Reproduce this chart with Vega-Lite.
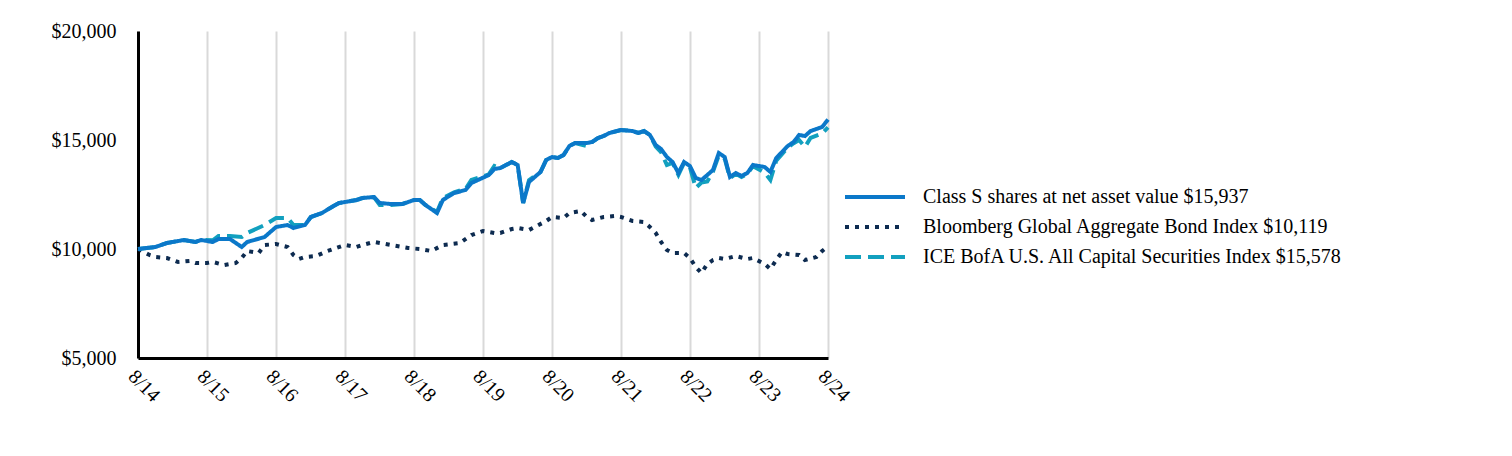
{
  "$schema": "https://vega.github.io/schema/vega-lite/v6.json",
  "width": 690,
  "height": 327,
  "autosize": {"type": "none"},
  "padding": {"left": 138, "top": 31, "right": 684, "bottom": 98},
  "background": "white",
  "config": {
    "view": {"stroke": null},
    "font": "Liberation Serif",
    "axis": {"labelFont": "Liberation Serif", "labelColor": "black", "labelFontSize": 20},
    "legend": {"labelFont": "Liberation Serif", "labelColor": "black", "labelFontSize": 20}
  },
  "data": {"values": [
    {"d":"2014-08-01","s":"Bloomberg Global Aggregate Bond Index $10,119","v":10000},
    {"d":"2014-10-01","s":"Bloomberg Global Aggregate Bond Index $10,119","v":9724},
    {"d":"2014-11-01","s":"Bloomberg Global Aggregate Bond Index $10,119","v":9633},
    {"d":"2015-01-01","s":"Bloomberg Global Aggregate Bond Index $10,119","v":9587},
    {"d":"2015-03-01","s":"Bloomberg Global Aggregate Bond Index $10,119","v":9404},
    {"d":"2015-05-01","s":"Bloomberg Global Aggregate Bond Index $10,119","v":9449},
    {"d":"2015-06-01","s":"Bloomberg Global Aggregate Bond Index $10,119","v":9358},
    {"d":"2015-08-01","s":"Bloomberg Global Aggregate Bond Index $10,119","v":9358},
    {"d":"2015-09-01","s":"Bloomberg Global Aggregate Bond Index $10,119","v":9404},
    {"d":"2015-11-01","s":"Bloomberg Global Aggregate Bond Index $10,119","v":9266},
    {"d":"2016-01-01","s":"Bloomberg Global Aggregate Bond Index $10,119","v":9358},
    {"d":"2016-02-01","s":"Bloomberg Global Aggregate Bond Index $10,119","v":9587},
    {"d":"2016-03-01","s":"Bloomberg Global Aggregate Bond Index $10,119","v":9908},
    {"d":"2016-05-01","s":"Bloomberg Global Aggregate Bond Index $10,119","v":9816},
    {"d":"2016-06-01","s":"Bloomberg Global Aggregate Bond Index $10,119","v":10183},
    {"d":"2016-08-01","s":"Bloomberg Global Aggregate Bond Index $10,119","v":10229},
    {"d":"2016-10-01","s":"Bloomberg Global Aggregate Bond Index $10,119","v":10092},
    {"d":"2016-11-01","s":"Bloomberg Global Aggregate Bond Index $10,119","v":9725},
    {"d":"2016-12-01","s":"Bloomberg Global Aggregate Bond Index $10,119","v":9541},
    {"d":"2017-01-01","s":"Bloomberg Global Aggregate Bond Index $10,119","v":9633},
    {"d":"2017-03-01","s":"Bloomberg Global Aggregate Bond Index $10,119","v":9679},
    {"d":"2017-05-01","s":"Bloomberg Global Aggregate Bond Index $10,119","v":9908},
    {"d":"2017-06-01","s":"Bloomberg Global Aggregate Bond Index $10,119","v":10000},
    {"d":"2017-08-01","s":"Bloomberg Global Aggregate Bond Index $10,119","v":10183},
    {"d":"2017-10-01","s":"Bloomberg Global Aggregate Bond Index $10,119","v":10092},
    {"d":"2017-11-01","s":"Bloomberg Global Aggregate Bond Index $10,119","v":10183},
    {"d":"2018-01-01","s":"Bloomberg Global Aggregate Bond Index $10,119","v":10321},
    {"d":"2018-02-01","s":"Bloomberg Global Aggregate Bond Index $10,119","v":10275},
    {"d":"2018-04-01","s":"Bloomberg Global Aggregate Bond Index $10,119","v":10183},
    {"d":"2018-06-01","s":"Bloomberg Global Aggregate Bond Index $10,119","v":10092},
    {"d":"2018-07-01","s":"Bloomberg Global Aggregate Bond Index $10,119","v":10046},
    {"d":"2018-09-01","s":"Bloomberg Global Aggregate Bond Index $10,119","v":10000},
    {"d":"2018-11-01","s":"Bloomberg Global Aggregate Bond Index $10,119","v":9908},
    {"d":"2019-01-01","s":"Bloomberg Global Aggregate Bond Index $10,119","v":10183},
    {"d":"2019-04-01","s":"Bloomberg Global Aggregate Bond Index $10,119","v":10275},
    {"d":"2019-06-01","s":"Bloomberg Global Aggregate Bond Index $10,119","v":10642},
    {"d":"2019-08-01","s":"Bloomberg Global Aggregate Bond Index $10,119","v":10825},
    {"d":"2019-10-01","s":"Bloomberg Global Aggregate Bond Index $10,119","v":10734},
    {"d":"2019-11-01","s":"Bloomberg Global Aggregate Bond Index $10,119","v":10734},
    {"d":"2020-01-01","s":"Bloomberg Global Aggregate Bond Index $10,119","v":10917},
    {"d":"2020-02-01","s":"Bloomberg Global Aggregate Bond Index $10,119","v":10963},
    {"d":"2020-04-01","s":"Bloomberg Global Aggregate Bond Index $10,119","v":10871},
    {"d":"2020-05-01","s":"Bloomberg Global Aggregate Bond Index $10,119","v":11009},
    {"d":"2020-07-01","s":"Bloomberg Global Aggregate Bond Index $10,119","v":11284},
    {"d":"2020-08-01","s":"Bloomberg Global Aggregate Bond Index $10,119","v":11468},
    {"d":"2020-10-01","s":"Bloomberg Global Aggregate Bond Index $10,119","v":11422},
    {"d":"2020-11-01","s":"Bloomberg Global Aggregate Bond Index $10,119","v":11651},
    {"d":"2021-01-01","s":"Bloomberg Global Aggregate Bond Index $10,119","v":11743},
    {"d":"2021-02-01","s":"Bloomberg Global Aggregate Bond Index $10,119","v":11468},
    {"d":"2021-03-01","s":"Bloomberg Global Aggregate Bond Index $10,119","v":11330},
    {"d":"2021-05-01","s":"Bloomberg Global Aggregate Bond Index $10,119","v":11468},
    {"d":"2021-07-01","s":"Bloomberg Global Aggregate Bond Index $10,119","v":11514},
    {"d":"2021-08-01","s":"Bloomberg Global Aggregate Bond Index $10,119","v":11468},
    {"d":"2021-10-01","s":"Bloomberg Global Aggregate Bond Index $10,119","v":11284},
    {"d":"2021-12-01","s":"Bloomberg Global Aggregate Bond Index $10,119","v":11238},
    {"d":"2022-01-01","s":"Bloomberg Global Aggregate Bond Index $10,119","v":11009},
    {"d":"2022-02-01","s":"Bloomberg Global Aggregate Bond Index $10,119","v":10734},
    {"d":"2022-03-01","s":"Bloomberg Global Aggregate Bond Index $10,119","v":10321},
    {"d":"2022-04-01","s":"Bloomberg Global Aggregate Bond Index $10,119","v":9954},
    {"d":"2022-05-01","s":"Bloomberg Global Aggregate Bond Index $10,119","v":9816},
    {"d":"2022-07-01","s":"Bloomberg Global Aggregate Bond Index $10,119","v":9816},
    {"d":"2022-08-01","s":"Bloomberg Global Aggregate Bond Index $10,119","v":9587},
    {"d":"2022-09-01","s":"Bloomberg Global Aggregate Bond Index $10,119","v":9174},
    {"d":"2022-10-01","s":"Bloomberg Global Aggregate Bond Index $10,119","v":8899},
    {"d":"2022-11-01","s":"Bloomberg Global Aggregate Bond Index $10,119","v":9312},
    {"d":"2022-12-01","s":"Bloomberg Global Aggregate Bond Index $10,119","v":9495},
    {"d":"2023-01-01","s":"Bloomberg Global Aggregate Bond Index $10,119","v":9587},
    {"d":"2023-02-01","s":"Bloomberg Global Aggregate Bond Index $10,119","v":9541},
    {"d":"2023-04-01","s":"Bloomberg Global Aggregate Bond Index $10,119","v":9679},
    {"d":"2023-06-01","s":"Bloomberg Global Aggregate Bond Index $10,119","v":9541},
    {"d":"2023-07-01","s":"Bloomberg Global Aggregate Bond Index $10,119","v":9587},
    {"d":"2023-09-01","s":"Bloomberg Global Aggregate Bond Index $10,119","v":9312},
    {"d":"2023-10-01","s":"Bloomberg Global Aggregate Bond Index $10,119","v":9083},
    {"d":"2023-11-01","s":"Bloomberg Global Aggregate Bond Index $10,119","v":9495},
    {"d":"2023-12-01","s":"Bloomberg Global Aggregate Bond Index $10,119","v":9862},
    {"d":"2024-01-01","s":"Bloomberg Global Aggregate Bond Index $10,119","v":9770},
    {"d":"2024-03-01","s":"Bloomberg Global Aggregate Bond Index $10,119","v":9725},
    {"d":"2024-04-01","s":"Bloomberg Global Aggregate Bond Index $10,119","v":9495},
    {"d":"2024-06-01","s":"Bloomberg Global Aggregate Bond Index $10,119","v":9633},
    {"d":"2024-07-01","s":"Bloomberg Global Aggregate Bond Index $10,119","v":9908},
    {"d":"2024-08-01","s":"Bloomberg Global Aggregate Bond Index $10,119","v":10119},

    {"d":"2014-08-01","s":"ICE BofA U.S. All Capital Securities Index $15,578","v":10000},
    {"d":"2014-11-01","s":"ICE BofA U.S. All Capital Securities Index $15,578","v":10092},
    {"d":"2015-01-01","s":"ICE BofA U.S. All Capital Securities Index $15,578","v":10275},
    {"d":"2015-04-01","s":"ICE BofA U.S. All Capital Securities Index $15,578","v":10413},
    {"d":"2015-06-01","s":"ICE BofA U.S. All Capital Securities Index $15,578","v":10321},
    {"d":"2015-07-01","s":"ICE BofA U.S. All Capital Securities Index $15,578","v":10413},
    {"d":"2015-09-01","s":"ICE BofA U.S. All Capital Securities Index $15,578","v":10400},
    {"d":"2015-10-01","s":"ICE BofA U.S. All Capital Securities Index $15,578","v":10596},
    {"d":"2015-12-01","s":"ICE BofA U.S. All Capital Securities Index $15,578","v":10596},
    {"d":"2016-02-01","s":"ICE BofA U.S. All Capital Securities Index $15,578","v":10550},
    {"d":"2016-03-01","s":"ICE BofA U.S. All Capital Securities Index $15,578","v":10734},
    {"d":"2016-06-01","s":"ICE BofA U.S. All Capital Securities Index $15,578","v":11101},
    {"d":"2016-08-01","s":"ICE BofA U.S. All Capital Securities Index $15,578","v":11422},
    {"d":"2016-10-01","s":"ICE BofA U.S. All Capital Securities Index $15,578","v":11422},
    {"d":"2016-11-01","s":"ICE BofA U.S. All Capital Securities Index $15,578","v":11101},
    {"d":"2017-01-01","s":"ICE BofA U.S. All Capital Securities Index $15,578","v":11101},
    {"d":"2017-02-01","s":"ICE BofA U.S. All Capital Securities Index $15,578","v":11468},
    {"d":"2017-04-01","s":"ICE BofA U.S. All Capital Securities Index $15,578","v":11651},
    {"d":"2017-06-01","s":"ICE BofA U.S. All Capital Securities Index $15,578","v":11972},
    {"d":"2017-07-01","s":"ICE BofA U.S. All Capital Securities Index $15,578","v":12110},
    {"d":"2017-10-01","s":"ICE BofA U.S. All Capital Securities Index $15,578","v":12247},
    {"d":"2017-11-01","s":"ICE BofA U.S. All Capital Securities Index $15,578","v":12339},
    {"d":"2018-01-01","s":"ICE BofA U.S. All Capital Securities Index $15,578","v":12385},
    {"d":"2018-02-01","s":"ICE BofA U.S. All Capital Securities Index $15,578","v":12018},
    {"d":"2018-04-01","s":"ICE BofA U.S. All Capital Securities Index $15,578","v":12018},
    {"d":"2018-06-01","s":"ICE BofA U.S. All Capital Securities Index $15,578","v":12064},
    {"d":"2018-08-01","s":"ICE BofA U.S. All Capital Securities Index $15,578","v":12247},
    {"d":"2018-09-01","s":"ICE BofA U.S. All Capital Securities Index $15,578","v":12247},
    {"d":"2018-10-01","s":"ICE BofA U.S. All Capital Securities Index $15,578","v":12018},
    {"d":"2018-12-01","s":"ICE BofA U.S. All Capital Securities Index $15,578","v":11700},
    {"d":"2019-01-01","s":"ICE BofA U.S. All Capital Securities Index $15,578","v":12339},
    {"d":"2019-03-01","s":"ICE BofA U.S. All Capital Securities Index $15,578","v":12600},
    {"d":"2019-05-01","s":"ICE BofA U.S. All Capital Securities Index $15,578","v":12760},
    {"d":"2019-06-01","s":"ICE BofA U.S. All Capital Securities Index $15,578","v":13165},
    {"d":"2019-09-01","s":"ICE BofA U.S. All Capital Securities Index $15,578","v":13420},
    {"d":"2019-10-01","s":"ICE BofA U.S. All Capital Securities Index $15,578","v":13807},
    {"d":"2019-11-01","s":"ICE BofA U.S. All Capital Securities Index $15,578","v":13715},
    {"d":"2020-01-01","s":"ICE BofA U.S. All Capital Securities Index $15,578","v":13990},
    {"d":"2020-02-01","s":"ICE BofA U.S. All Capital Securities Index $15,578","v":13853},
    {"d":"2020-03-01","s":"ICE BofA U.S. All Capital Securities Index $15,578","v":12110},
    {"d":"2020-04-01","s":"ICE BofA U.S. All Capital Securities Index $15,578","v":13160},
    {"d":"2020-06-01","s":"ICE BofA U.S. All Capital Securities Index $15,578","v":13532},
    {"d":"2020-07-01","s":"ICE BofA U.S. All Capital Securities Index $15,578","v":14082},
    {"d":"2020-08-01","s":"ICE BofA U.S. All Capital Securities Index $15,578","v":14220},
    {"d":"2020-09-01","s":"ICE BofA U.S. All Capital Securities Index $15,578","v":14174},
    {"d":"2020-10-01","s":"ICE BofA U.S. All Capital Securities Index $15,578","v":14312},
    {"d":"2020-11-01","s":"ICE BofA U.S. All Capital Securities Index $15,578","v":14725},
    {"d":"2020-12-01","s":"ICE BofA U.S. All Capital Securities Index $15,578","v":14862},
    {"d":"2021-02-01","s":"ICE BofA U.S. All Capital Securities Index $15,578","v":14725},
    {"d":"2021-03-01","s":"ICE BofA U.S. All Capital Securities Index $15,578","v":14908},
    {"d":"2021-04-01","s":"ICE BofA U.S. All Capital Securities Index $15,578","v":15091},
    {"d":"2021-05-01","s":"ICE BofA U.S. All Capital Securities Index $15,578","v":15183},
    {"d":"2021-06-01","s":"ICE BofA U.S. All Capital Securities Index $15,578","v":15321},
    {"d":"2021-08-01","s":"ICE BofA U.S. All Capital Securities Index $15,578","v":15458},
    {"d":"2021-10-01","s":"ICE BofA U.S. All Capital Securities Index $15,578","v":15412},
    {"d":"2021-11-01","s":"ICE BofA U.S. All Capital Securities Index $15,578","v":15321},
    {"d":"2021-12-01","s":"ICE BofA U.S. All Capital Securities Index $15,578","v":15412},
    {"d":"2022-01-01","s":"ICE BofA U.S. All Capital Securities Index $15,578","v":15229},
    {"d":"2022-02-01","s":"ICE BofA U.S. All Capital Securities Index $15,578","v":14700},
    {"d":"2022-03-01","s":"ICE BofA U.S. All Capital Securities Index $15,578","v":14450},
    {"d":"2022-04-01","s":"ICE BofA U.S. All Capital Securities Index $15,578","v":13853},
    {"d":"2022-05-01","s":"ICE BofA U.S. All Capital Securities Index $15,578","v":13950},
    {"d":"2022-06-01","s":"ICE BofA U.S. All Capital Securities Index $15,578","v":13400},
    {"d":"2022-07-01","s":"ICE BofA U.S. All Capital Securities Index $15,578","v":13950},
    {"d":"2022-08-01","s":"ICE BofA U.S. All Capital Securities Index $15,578","v":13750},
    {"d":"2022-09-01","s":"ICE BofA U.S. All Capital Securities Index $15,578","v":12800},
    {"d":"2022-10-01","s":"ICE BofA U.S. All Capital Securities Index $15,578","v":13050},
    {"d":"2022-11-01","s":"ICE BofA U.S. All Capital Securities Index $15,578","v":13100},
    {"d":"2022-12-01","s":"ICE BofA U.S. All Capital Securities Index $15,578","v":13550},
    {"d":"2023-01-01","s":"ICE BofA U.S. All Capital Securities Index $15,578","v":14300},
    {"d":"2023-02-01","s":"ICE BofA U.S. All Capital Securities Index $15,578","v":14150},
    {"d":"2023-03-01","s":"ICE BofA U.S. All Capital Securities Index $15,578","v":13250},
    {"d":"2023-04-01","s":"ICE BofA U.S. All Capital Securities Index $15,578","v":13450},
    {"d":"2023-05-01","s":"ICE BofA U.S. All Capital Securities Index $15,578","v":13300},
    {"d":"2023-06-01","s":"ICE BofA U.S. All Capital Securities Index $15,578","v":13450},
    {"d":"2023-07-01","s":"ICE BofA U.S. All Capital Securities Index $15,578","v":13800},
    {"d":"2023-09-01","s":"ICE BofA U.S. All Capital Securities Index $15,578","v":13500},
    {"d":"2023-10-01","s":"ICE BofA U.S. All Capital Securities Index $15,578","v":13165},
    {"d":"2023-11-01","s":"ICE BofA U.S. All Capital Securities Index $15,578","v":14050},
    {"d":"2024-01-01","s":"ICE BofA U.S. All Capital Securities Index $15,578","v":14650},
    {"d":"2024-02-01","s":"ICE BofA U.S. All Capital Securities Index $15,578","v":14850},
    {"d":"2024-03-01","s":"ICE BofA U.S. All Capital Securities Index $15,578","v":15000},
    {"d":"2024-04-01","s":"ICE BofA U.S. All Capital Securities Index $15,578","v":14679},
    {"d":"2024-05-01","s":"ICE BofA U.S. All Capital Securities Index $15,578","v":15100},
    {"d":"2024-07-01","s":"ICE BofA U.S. All Capital Securities Index $15,578","v":15300},
    {"d":"2024-08-01","s":"ICE BofA U.S. All Capital Securities Index $15,578","v":15578},

    {"d":"2014-08-01","s":"Class S shares at net asset value $15,937","v":10000},
    {"d":"2014-11-01","s":"Class S shares at net asset value $15,937","v":10092},
    {"d":"2015-01-01","s":"Class S shares at net asset value $15,937","v":10275},
    {"d":"2015-04-01","s":"Class S shares at net asset value $15,937","v":10413},
    {"d":"2015-06-01","s":"Class S shares at net asset value $15,937","v":10321},
    {"d":"2015-07-01","s":"Class S shares at net asset value $15,937","v":10413},
    {"d":"2015-09-01","s":"Class S shares at net asset value $15,937","v":10321},
    {"d":"2015-10-01","s":"Class S shares at net asset value $15,937","v":10459},
    {"d":"2015-12-01","s":"Class S shares at net asset value $15,937","v":10459},
    {"d":"2016-02-01","s":"Class S shares at net asset value $15,937","v":10092},
    {"d":"2016-03-01","s":"Class S shares at net asset value $15,937","v":10321},
    {"d":"2016-06-01","s":"Class S shares at net asset value $15,937","v":10550},
    {"d":"2016-08-01","s":"Class S shares at net asset value $15,937","v":11009},
    {"d":"2016-10-01","s":"Class S shares at net asset value $15,937","v":11101},
    {"d":"2016-11-01","s":"Class S shares at net asset value $15,937","v":10963},
    {"d":"2017-01-01","s":"Class S shares at net asset value $15,937","v":11101},
    {"d":"2017-02-01","s":"Class S shares at net asset value $15,937","v":11468},
    {"d":"2017-04-01","s":"Class S shares at net asset value $15,937","v":11651},
    {"d":"2017-06-01","s":"Class S shares at net asset value $15,937","v":11972},
    {"d":"2017-07-01","s":"Class S shares at net asset value $15,937","v":12110},
    {"d":"2017-10-01","s":"Class S shares at net asset value $15,937","v":12247},
    {"d":"2017-11-01","s":"Class S shares at net asset value $15,937","v":12339},
    {"d":"2018-01-01","s":"Class S shares at net asset value $15,937","v":12385},
    {"d":"2018-02-01","s":"Class S shares at net asset value $15,937","v":12110},
    {"d":"2018-04-01","s":"Class S shares at net asset value $15,937","v":12064},
    {"d":"2018-06-01","s":"Class S shares at net asset value $15,937","v":12064},
    {"d":"2018-08-01","s":"Class S shares at net asset value $15,937","v":12247},
    {"d":"2018-09-01","s":"Class S shares at net asset value $15,937","v":12247},
    {"d":"2018-10-01","s":"Class S shares at net asset value $15,937","v":12018},
    {"d":"2018-12-01","s":"Class S shares at net asset value $15,937","v":11651},
    {"d":"2019-01-01","s":"Class S shares at net asset value $15,937","v":12247},
    {"d":"2019-03-01","s":"Class S shares at net asset value $15,937","v":12568},
    {"d":"2019-05-01","s":"Class S shares at net asset value $15,937","v":12706},
    {"d":"2019-06-01","s":"Class S shares at net asset value $15,937","v":13027},
    {"d":"2019-09-01","s":"Class S shares at net asset value $15,937","v":13394},
    {"d":"2019-10-01","s":"Class S shares at net asset value $15,937","v":13669},
    {"d":"2019-11-01","s":"Class S shares at net asset value $15,937","v":13715},
    {"d":"2020-01-01","s":"Class S shares at net asset value $15,937","v":13990},
    {"d":"2020-02-01","s":"Class S shares at net asset value $15,937","v":13853},
    {"d":"2020-03-01","s":"Class S shares at net asset value $15,937","v":12110},
    {"d":"2020-04-01","s":"Class S shares at net asset value $15,937","v":13073},
    {"d":"2020-06-01","s":"Class S shares at net asset value $15,937","v":13532},
    {"d":"2020-07-01","s":"Class S shares at net asset value $15,937","v":14082},
    {"d":"2020-08-01","s":"Class S shares at net asset value $15,937","v":14220},
    {"d":"2020-09-01","s":"Class S shares at net asset value $15,937","v":14174},
    {"d":"2020-10-01","s":"Class S shares at net asset value $15,937","v":14312},
    {"d":"2020-11-01","s":"Class S shares at net asset value $15,937","v":14725},
    {"d":"2020-12-01","s":"Class S shares at net asset value $15,937","v":14862},
    {"d":"2021-02-01","s":"Class S shares at net asset value $15,937","v":14862},
    {"d":"2021-03-01","s":"Class S shares at net asset value $15,937","v":14908},
    {"d":"2021-04-01","s":"Class S shares at net asset value $15,937","v":15091},
    {"d":"2021-05-01","s":"Class S shares at net asset value $15,937","v":15183},
    {"d":"2021-06-01","s":"Class S shares at net asset value $15,937","v":15321},
    {"d":"2021-08-01","s":"Class S shares at net asset value $15,937","v":15458},
    {"d":"2021-10-01","s":"Class S shares at net asset value $15,937","v":15412},
    {"d":"2021-11-01","s":"Class S shares at net asset value $15,937","v":15321},
    {"d":"2021-12-01","s":"Class S shares at net asset value $15,937","v":15412},
    {"d":"2022-01-01","s":"Class S shares at net asset value $15,937","v":15229},
    {"d":"2022-02-01","s":"Class S shares at net asset value $15,937","v":14771},
    {"d":"2022-03-01","s":"Class S shares at net asset value $15,937","v":14587},
    {"d":"2022-04-01","s":"Class S shares at net asset value $15,937","v":14220},
    {"d":"2022-05-01","s":"Class S shares at net asset value $15,937","v":13990},
    {"d":"2022-06-01","s":"Class S shares at net asset value $15,937","v":13486},
    {"d":"2022-07-01","s":"Class S shares at net asset value $15,937","v":13990},
    {"d":"2022-08-01","s":"Class S shares at net asset value $15,937","v":13807},
    {"d":"2022-09-01","s":"Class S shares at net asset value $15,937","v":13257},
    {"d":"2022-10-01","s":"Class S shares at net asset value $15,937","v":13165},
    {"d":"2022-11-01","s":"Class S shares at net asset value $15,937","v":13394},
    {"d":"2022-12-01","s":"Class S shares at net asset value $15,937","v":13624},
    {"d":"2023-01-01","s":"Class S shares at net asset value $15,937","v":14403},
    {"d":"2023-02-01","s":"Class S shares at net asset value $15,937","v":14220},
    {"d":"2023-03-01","s":"Class S shares at net asset value $15,937","v":13303},
    {"d":"2023-04-01","s":"Class S shares at net asset value $15,937","v":13486},
    {"d":"2023-05-01","s":"Class S shares at net asset value $15,937","v":13349},
    {"d":"2023-06-01","s":"Class S shares at net asset value $15,937","v":13486},
    {"d":"2023-07-01","s":"Class S shares at net asset value $15,937","v":13853},
    {"d":"2023-09-01","s":"Class S shares at net asset value $15,937","v":13761},
    {"d":"2023-10-01","s":"Class S shares at net asset value $15,937","v":13532},
    {"d":"2023-11-01","s":"Class S shares at net asset value $15,937","v":14174},
    {"d":"2024-01-01","s":"Class S shares at net asset value $15,937","v":14725},
    {"d":"2024-02-01","s":"Class S shares at net asset value $15,937","v":14908},
    {"d":"2024-03-01","s":"Class S shares at net asset value $15,937","v":15229},
    {"d":"2024-04-01","s":"Class S shares at net asset value $15,937","v":15183},
    {"d":"2024-05-01","s":"Class S shares at net asset value $15,937","v":15412},
    {"d":"2024-07-01","s":"Class S shares at net asset value $15,937","v":15596},
    {"d":"2024-08-01","s":"Class S shares at net asset value $15,937","v":15937}
  ]},
  "mark": {"type": "line", "strokeWidth": 4, "strokeCap": "butt", "strokeJoin": "miter", "clip": false},
  "encoding": {
    "x": {
      "field": "d", "type": "temporal",
      "scale": {"type": "utc", "domain": [{"year": 2014, "month": 8, "date": 1, "utc": true}, {"year": 2024, "month": 8, "date": 1, "utc": true}]},
      "axis": {
        "title": null,
        "values": [
          {"year": 2014, "month": 8, "date": 1, "utc": true},
          {"year": 2015, "month": 8, "date": 1, "utc": true},
          {"year": 2016, "month": 8, "date": 1, "utc": true},
          {"year": 2017, "month": 8, "date": 1, "utc": true},
          {"year": 2018, "month": 8, "date": 1, "utc": true},
          {"year": 2019, "month": 8, "date": 1, "utc": true},
          {"year": 2020, "month": 8, "date": 1, "utc": true},
          {"year": 2021, "month": 8, "date": 1, "utc": true},
          {"year": 2022, "month": 8, "date": 1, "utc": true},
          {"year": 2023, "month": 8, "date": 1, "utc": true},
          {"year": 2024, "month": 8, "date": 1, "utc": true}
        ],
        "format": "%-m/%y",
        "labelAngle": 45,
        "labelAlign": "left",
        "labelBaseline": "top",
        "labelPadding": 8,
        "labelFlush": false,
        "labelOverlap": false,
        "ticks": false,
        "grid": true,
        "gridColor": "#d9d9d9",
        "gridWidth": 2,
        "domainColor": "black",
        "domainWidth": 3
      }
    },
    "y": {
      "field": "v", "type": "quantitative",
      "scale": {"domain": [5000, 20000], "nice": false, "zero": false},
      "axis": {
        "title": null,
        "values": [5000, 10000, 15000, 20000],
        "format": "$,.0f",
        "ticks": false,
        "grid": false,
        "labelPadding": 22,
        "domainColor": "black",
        "domainWidth": 3
      }
    },
    "color": {
      "field": "s", "type": "nominal",
      "scale": {
        "domain": ["Class S shares at net asset value $15,937", "Bloomberg Global Aggregate Bond Index $10,119", "ICE BofA U.S. All Capital Securities Index $15,578"],
        "range": ["#0b78c9", "#0d2b50", "#12a0bf"]
      },
      "legend": {
        "title": null,
        "orient": "none",
        "legendX": 725,
        "legendY": 154,
        "symbolType": "M-3,0H3",
        "symbolSize": 400,
        "symbolStrokeWidth": 4,
        "labelOffset": 36,
        "rowPadding": 8,
        "labelLimit": 600
      }
    },
    "strokeDash": {
      "field": "s", "type": "nominal",
      "scale": {
        "domain": ["Class S shares at net asset value $15,937", "Bloomberg Global Aggregate Bond Index $10,119", "ICE BofA U.S. All Capital Securities Index $15,578"],
        "range": [[1, 0], [4, 6], [16, 7]]
      },
      "legend": null
    }
  }
}
